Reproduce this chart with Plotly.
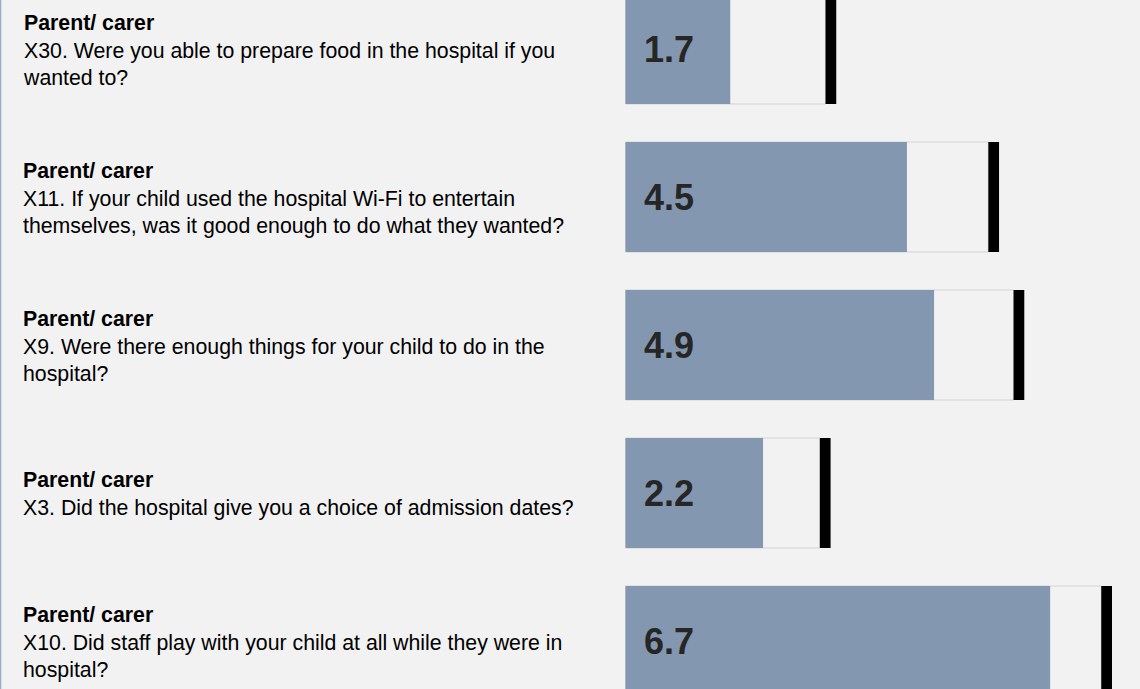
import plotly.graph_objects as go

# ---- data ----
groups = ["Parent/ carer"] * 5
questions = [
    "X30. Were you able to prepare food in the hospital if you<br>wanted to?",
    "X11. If your child used the hospital Wi-Fi to entertain<br>themselves, was it good enough to do what they wanted?",
    "X9. Were there enough things for your child to do in the<br>hospital?",
    "X3. Did the hospital give you a choice of admission dates?",
    "X10. Did staff play with your child at all while they were in<br>hospital?",
]
scores = [1.66, 4.46, 4.89, 2.18, 6.73]
max_scores = [3.17, 5.75, 6.15, 3.08, 7.54]
score_labels = ["1.7", "4.5", "4.9", "2.2", "6.7"]

# ---- styling ----
BG = "#F2F2F2"
BAR = "#8497B0"
BAR_W = 0.743
MARK_W = 0.17
FONT = "Liberation Sans, Arial, sans-serif"

ypos = list(range(len(scores)))

fig = go.Figure()
fig.add_trace(go.Bar(
    y=ypos, x=max_scores, orientation="h", width=BAR_W,
    marker=dict(color=BG, line=dict(color="#D3D3D3", width=1)),
    hoverinfo="skip", showlegend=False,
))
fig.add_trace(go.Bar(
    y=ypos, x=scores, orientation="h", width=BAR_W,
    marker=dict(color=BAR, line=dict(width=0)),
    showlegend=False,
))
fig.add_trace(go.Bar(
    y=ypos, x=[MARK_W] * len(scores), base=max_scores, orientation="h", width=BAR_W,
    marker=dict(color="#000000", line=dict(width=0)),
    hoverinfo="skip", showlegend=False,
))

annotations = []
for i, (g, q, lab) in enumerate(zip(groups, questions, score_labels)):
    annotations.append(dict(
        xref="paper", yref="y", x=21 / 1140, y=i, yshift=-1,
        xanchor="left", yanchor="middle", align="left",
        text=f"<b>{g}</b><br>{q}", showarrow=False,
        font=dict(family=FONT, size=21.3, color="#000000"),
    ))
    annotations.append(dict(
        xref="x", yref="y", x=0, y=i, xshift=16,
        xanchor="left", yanchor="middle",
        text=f"<b>{lab}</b>", showarrow=False,
        font=dict(family=FONT, size=36, color="#262626"),
    ))

px_per_unit = 63.1
x0_px = 625.5
fig.update_layout(
    width=1140, height=689,
    margin=dict(l=0, r=0, t=0, b=0),
    paper_bgcolor=BG, plot_bgcolor=BG,
    barmode="overlay",
    xaxis=dict(range=[-x0_px / px_per_unit, (1140 - x0_px) / px_per_unit],
               visible=False, fixedrange=True),
    yaxis=dict(range=[(689 - 49) / 148, -49 / 148], visible=False, fixedrange=True),
    annotations=annotations,
    shapes=[dict(type="line", xref="paper", yref="paper", x0=0.0005, x1=0.0005, y0=0, y1=1,
                 line=dict(color="#9AAFD0", width=1.5))],
)

fig.write_html("out.html", config={"displayModeBar": False})
